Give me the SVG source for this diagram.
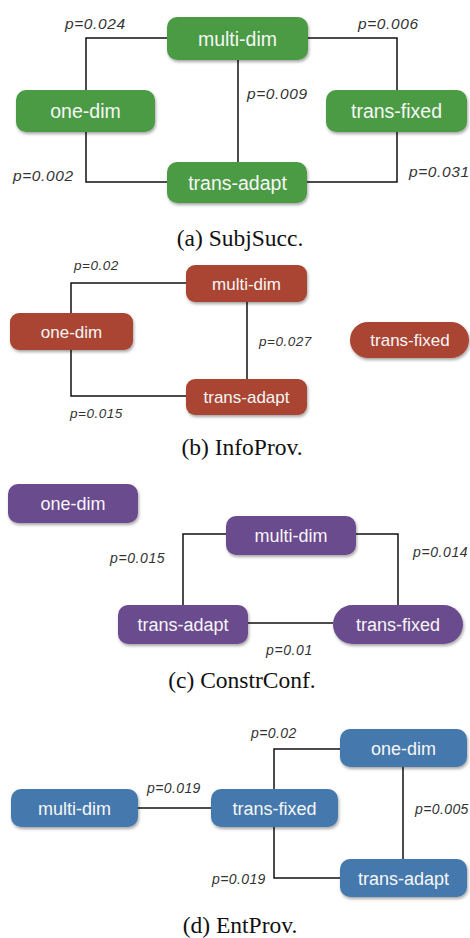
<svg xmlns="http://www.w3.org/2000/svg" width="470" height="938" viewBox="0 0 470 938">
<defs>
<filter id="sh" x="-10%" y="-20%" width="125%" height="150%">
<feDropShadow dx="1" dy="2" stdDeviation="1.5" flood-color="#000" flood-opacity="0.35"/>
</filter>
<style>
.bg{fill:#fff}
.n rect{filter:url(#sh)}
.g rect{fill:#4c9b44}
.r rect{fill:#a94531}
.v rect{fill:#6b4b8d}
.b rect{fill:#4479ad}
.n text{font-family:"Liberation Sans",Arial,sans-serif;fill:#f6f6f6;text-anchor:middle}
.fa{font-size:19.5px}
.fb{font-size:17px}
.fc{font-size:18px}
.fd{font-size:18px}
.edges path{fill:none;stroke:#111;stroke-width:1.5}
.lbl{font-family:"Liberation Sans",Arial,sans-serif;font-style:italic;fill:#333}
.la{font-size:15.5px;letter-spacing:0.6px}
.lb{font-size:13.5px;letter-spacing:0.5px}
.lc{font-size:14px;letter-spacing:0.6px}
.ld{font-size:14px;letter-spacing:0.4px}
.cap{font-family:"Liberation Serif","Times New Roman",serif;font-size:23.5px;fill:#111;text-anchor:middle}
</style>
</defs>
<rect class="bg" x="0" y="0" width="470" height="938"/>

<g id="connectors" class="edges">
<path d="M167,38 H86 V90"/>
<path d="M86,132 V182 H167"/>
<path d="M308,38 H397 V90"/>
<path d="M397,132 V182 H307"/>
<path d="M238,60 V162"/>

<path d="M186,283 H71 V313"/>
<path d="M71,350 V396 H186"/>
<path d="M247,302 V379"/>

<path d="M226,534 H183 V605"/>
<path d="M356,534 H398 V605"/>
<path d="M248,623 H333"/>

<path d="M138,808 H211"/>
<path d="M274,789 V749 H340"/>
<path d="M274,827 V878 H340"/>
<path d="M403,767 V859"/>
</g>

<g id="labels" class="lbl">
<text class="la" x="65" y="29">p=0.024</text>
<text class="la" x="358" y="29">p=0.006</text>
<text class="la" x="247" y="99">p=0.009</text>
<text class="la" x="13" y="181">p=0.002</text>
<text class="la" x="409" y="177">p=0.031</text>

<text class="lb" x="74" y="270">p=0.02</text>
<text class="lb" x="259" y="346">p=0.027</text>
<text class="lb" x="70" y="418">p=0.015</text>

<text class="lc" x="110" y="563">p=0.015</text>
<text class="lc" x="413" y="557">p=0.014</text>
<text class="lc" x="266" y="655">p=0.01</text>

<text class="ld" x="251" y="738">p=0.02</text>
<text class="ld" x="147" y="793">p=0.019</text>
<text class="ld" x="415" y="814">p=0.005</text>
<text class="ld" x="212" y="884">p=0.019</text>
</g>

<!-- (a) SubjSucc -->
<g id="a-multi-dim" class="n g"><rect x="167" y="17" width="141" height="43" rx="10"/><text class="fa" x="237.5" y="45.5">multi-dim</text></g>
<g id="a-one-dim" class="n g"><rect x="16" y="90" width="139" height="42" rx="10"/><text class="fa" x="85.5" y="118">one-dim</text></g>
<g id="a-trans-fixed" class="n g"><rect x="326" y="90" width="141" height="42" rx="10"/><text class="fa" x="396.5" y="118">trans-fixed</text></g>
<g id="a-trans-adapt" class="n g"><rect x="167" y="162" width="140" height="41" rx="10"/><text class="fa" x="237.5" y="189.5">trans-adapt</text></g>
<text id="cap-a" class="cap" x="240" y="246">(a) SubjSucc.</text>

<!-- (b) InfoProv -->
<g id="b-multi-dim" class="n r"><rect x="186" y="265" width="121" height="37" rx="9"/><text class="fb" x="246.5" y="289.5">multi-dim</text></g>
<g id="b-one-dim" class="n r"><rect x="10" y="313" width="123" height="37" rx="9"/><text class="fb" x="71.5" y="337.5">one-dim</text></g>
<g id="b-trans-adapt" class="n r"><rect x="186" y="379" width="121" height="36" rx="9"/><text class="fb" x="246.5" y="403">trans-adapt</text></g>
<g id="b-trans-fixed" class="n r"><rect x="350" y="322" width="119" height="36" rx="18"/><text class="fb" x="410" y="346">trans-fixed</text></g>
<text id="cap-b" class="cap" x="242" y="455">(b) InfoProv.</text>

<!-- (c) ConstrConf -->
<g id="c-one-dim" class="n v"><rect x="8" y="484" width="130" height="39" rx="10"/><text class="fc" x="73" y="510">one-dim</text></g>
<g id="c-multi-dim" class="n v"><rect x="226" y="516" width="130" height="39" rx="10"/><text class="fc" x="291" y="542">multi-dim</text></g>
<g id="c-trans-adapt" class="n v"><rect x="118" y="605" width="130" height="39" rx="10"/><text class="fc" x="183" y="631">trans-adapt</text></g>
<g id="c-trans-fixed" class="n v"><rect x="333" y="605" width="130" height="39" rx="19.5"/><text class="fc" x="398" y="631">trans-fixed</text></g>
<text id="cap-c" class="cap" x="242" y="688">(c) ConstrConf.</text>

<!-- (d) EntProv -->
<g id="d-one-dim" class="n b"><rect x="340" y="729" width="127" height="38" rx="10"/><text class="fd" x="403.5" y="754.5">one-dim</text></g>
<g id="d-multi-dim" class="n b"><rect x="11" y="789" width="127" height="38" rx="10"/><text class="fd" x="74.5" y="814.5">multi-dim</text></g>
<g id="d-trans-fixed" class="n b"><rect x="211" y="789" width="127" height="38" rx="10"/><text class="fd" x="274.5" y="814.5">trans-fixed</text></g>
<g id="d-trans-adapt" class="n b"><rect x="340" y="859" width="127" height="38" rx="10"/><text class="fd" x="403.5" y="884.5">trans-adapt</text></g>
<text id="cap-d" class="cap" x="240" y="933">(d) EntProv.</text>
</svg>
